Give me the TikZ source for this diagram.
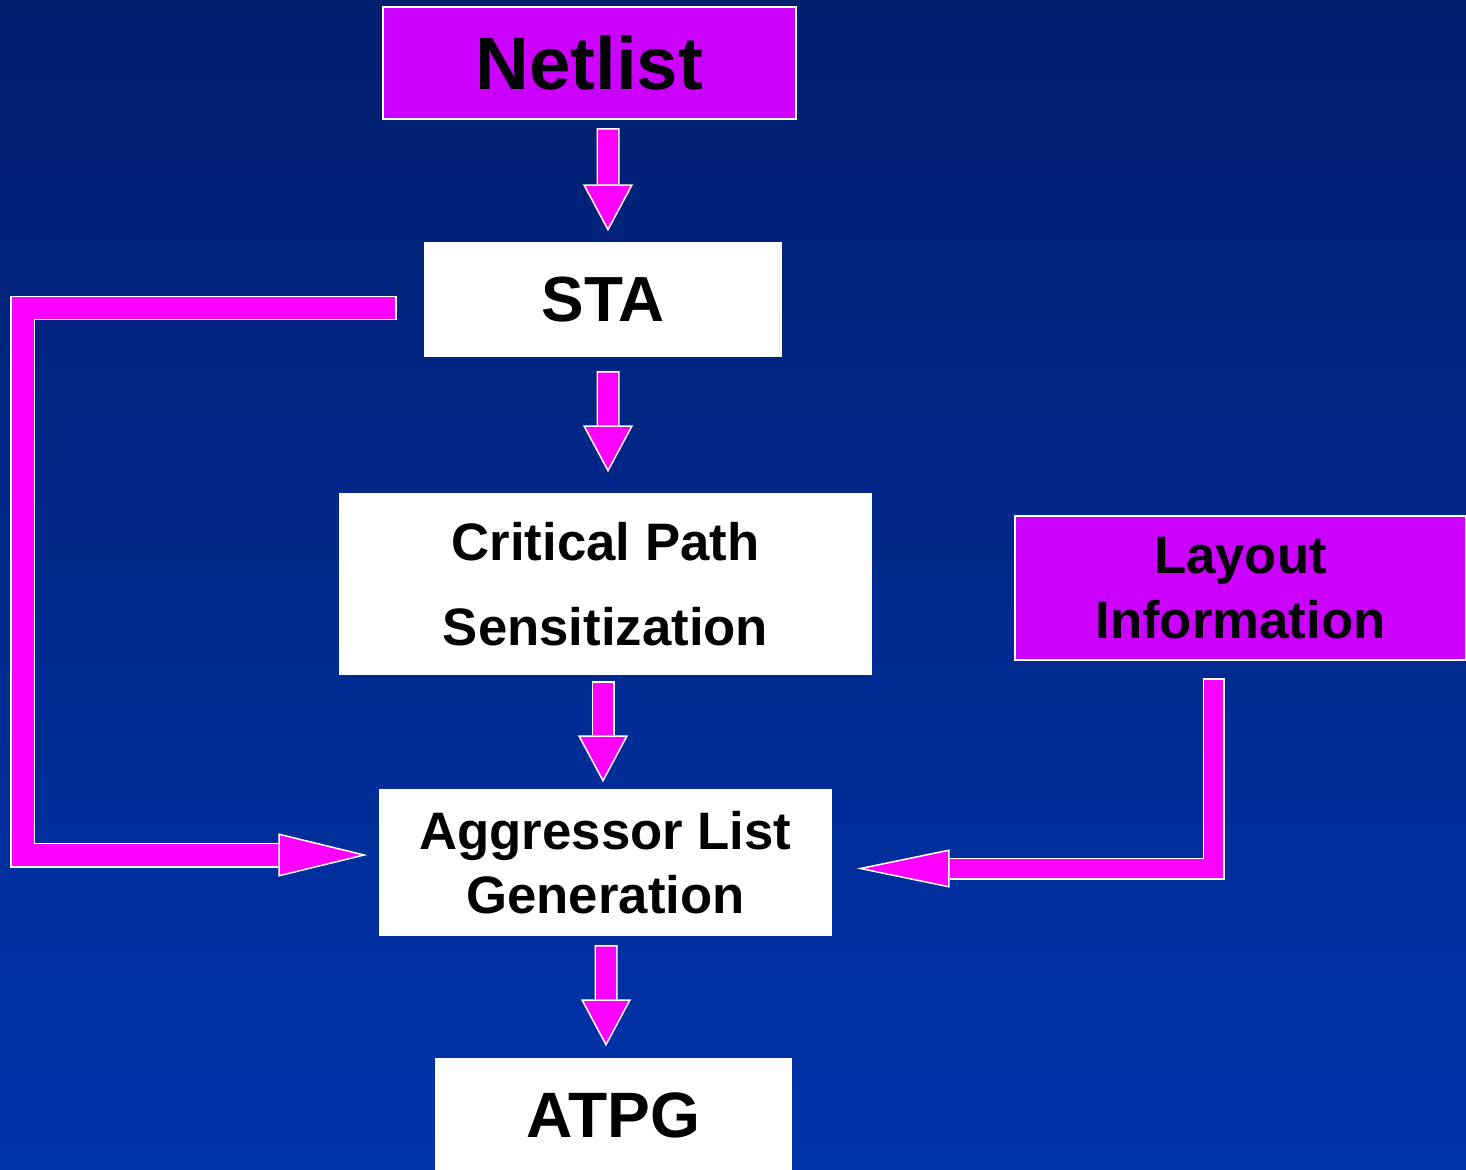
\documentclass[tikz,border=0pt]{standalone}
\usepackage{fontspec}
\setmainfont{Liberation Sans}
\usetikzlibrary{arrows.meta}

\definecolor{bgtop}{RGB}{0,30,110}
\definecolor{bgbot}{RGB}{0,52,172}
\definecolor{boxpurple}{RGB}{204,0,255}
\definecolor{arrowpink}{RGB}{255,0,255}

\tikzset{
  stage/.style={draw=white, line width=0.03cm, fill=white, text=black, inner sep=0pt, align=center},
  source/.style={stage, fill=boxpurple},
  flow/.style n args={3}{draw=arrowpink, line width=#1cm,
    preaction={draw=white, -, line width=#1cm+0.06cm, shorten >=#3cm, shorten <=-0.03cm},
    -{Triangle[length=#3cm, width=#2cm, color=white, fill=arrowpink, line width=0.03cm 0]}}
}

\begin{document}
\begin{tikzpicture}[x=0.02cm, y=-0.02cm]

\useasboundingbox (0,0) rectangle (1466,1169);
\shade[top color=bgtop, bottom color=bgbot] (0,0) rectangle (1466,1169);

\node[source, minimum width=8.26cm, minimum height=2.24cm, font=\bfseries\fontsize{42.3}{50}\selectfont] (netlist) at (589.5,63) {Netlist};
\node[stage, minimum width=7.12cm, minimum height=2.26cm, font=\bfseries\fontsize{36.3}{42}\selectfont] (sta) at (603,299.5) {STA};
\node[stage, minimum width=10.62cm, minimum height=3.6cm, font=\bfseries\fontsize{30}{48}\selectfont] (crit) at (605.5,584) {Critical Path\\Sensitization};
\node[source, minimum width=9.02cm, minimum height=2.88cm, font=\bfseries\fontsize{30}{37}\selectfont] (layout) at (1240.5,588) {Layout\\Information};
\node[stage, minimum width=9.02cm, minimum height=2.9cm, font=\bfseries\fontsize{30}{36.5}\selectfont] (aggr) at (605.5,862.5) {Aggressor List\\Generation};
\node[stage, minimum width=7.1cm, minimum height=2.26cm, font=\bfseries\fontsize{36.5}{42}\selectfont] (atpg) at (613.5,1115.5) {ATPG};

\draw[flow={0.4}{1}{0.94}] ([xshift=0.37cm,yshift=-0.2cm]netlist.south) -- ([xshift=0.1cm,yshift=0.22cm]sta.north);
\draw[flow={0.4}{1}{0.94}] ([xshift=0.1cm,yshift=-0.32cm]sta.south) -- ([xshift=0.05cm,yshift=0.42cm]crit.north);
\draw[flow={0.4}{1}{0.94}] ([xshift=-0.05cm,yshift=-0.16cm]crit.south) -- ([xshift=-0.05cm,yshift=0.14cm]aggr.north);
\draw[flow={0.4}{1}{0.94}] ([xshift=0.01cm,yshift=-0.22cm]aggr.south) -- ([xshift=-0.15cm,yshift=0.24cm]atpg.north);

\draw[flow={0.44}{0.86}{1.78}] ([xshift=-0.58cm,yshift=-0.17cm]sta.west) -- ++(-372.5,0) |- ([xshift=-0.24cm,yshift=0.15cm]aggr.west);
\draw[flow={0.38}{0.76}{1.86}] ([xshift=-0.54cm,yshift=-0.38cm]layout.south) |- ([xshift=0.5cm,yshift=-0.12cm]aggr.east);

\end{tikzpicture}
\end{document}
